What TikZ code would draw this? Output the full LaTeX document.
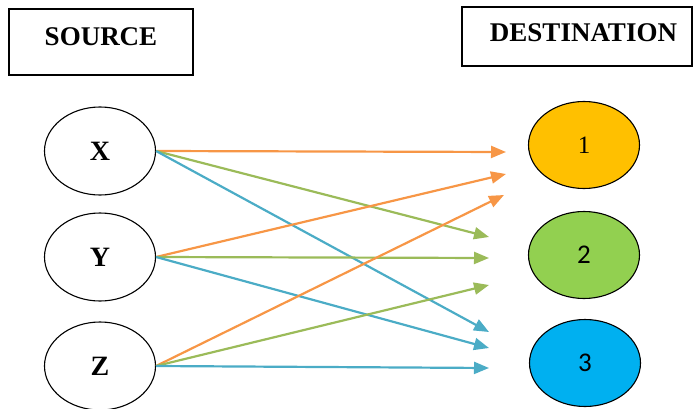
\documentclass[tikz,border=0pt]{standalone}
\usepackage{fontspec}
\setmainfont{Liberation Serif}
\newfontfamily\calib{Carlito}
\usetikzlibrary{shapes.geometric,arrows.meta}
\definecolor{arrOrange}{HTML}{F79646}
\definecolor{arrGreen}{HTML}{9BBB59}
\definecolor{arrBlue}{HTML}{4BACC6}
\definecolor{fillGold}{HTML}{FFC000}
\definecolor{fillGreen}{HTML}{92D050}
\definecolor{fillBlue}{HTML}{00B0F0}
\tikzset{
  titlebox/.style={draw, line width=1.3pt, inner sep=0pt, font=\fontsize{27}{30}\selectfont\bfseries},
  srcnode/.style={draw, ellipse, line width=1.1pt, minimum width=111pt, minimum height=88pt, inner sep=0pt, font=\fontsize{28}{30}\selectfont\bfseries},
  dstnode/.style={draw, ellipse, line width=1.1pt, minimum width=111pt, minimum height=87pt, inner sep=0pt, font=\fontsize{25}{28}\selectfont},
  conn/.style={line width=2.2pt, -{Triangle[length=15pt,width=12pt]}},
}
\begin{document}
\begin{tikzpicture}[x=1pt,y=-1pt]
\useasboundingbox (0,0) rectangle (693,409);
\node[titlebox, minimum width=184pt, minimum height=66pt, text height=18pt, text depth=11pt] (src) at (101,42) {SOURCE};
\node[titlebox, minimum width=230pt, minimum height=59pt, text height=18pt, text depth=7pt] (dst) at (577,36.5) {\hspace{13pt}DESTINATION};

\node[srcnode] (X) at (100,151) {X};
\node[srcnode] (Y) at (100,257) {Y};
\node[srcnode] (Z) at (100,366) {Z};

\node[dstnode, fill=fillGold] (D1) at (584,145) {1};
\node[dstnode, fill=fillGreen] (D2) at (584,255) {\calib\fontsize{27}{30}\selectfont 2};
\node[dstnode, fill=fillBlue] (D3) at (585,363) {\calib\fontsize{27}{30}\selectfont 3};

\coordinate (t1a) at (506,152);
\coordinate (t1b) at (506,174);
\coordinate (t1c) at (504,195);
\coordinate (t2a) at (489,237);
\coordinate (t2b) at (489,258);
\coordinate (t2c) at (489,285);
\coordinate (t3a) at (489,332);
\coordinate (t3b) at (489,348);
\coordinate (t3c) at (489,368);

\draw[conn, arrOrange] (X.east) -- (t1a);
\draw[conn, arrGreen] (X.east) -- (t2a);
\draw[conn, arrBlue] (X.east) -- (t3a);
\draw[conn, arrOrange] (Y.east) -- (t1b);
\draw[conn, arrGreen] (Y.east) -- (t2b);
\draw[conn, arrBlue] (Y.east) -- (t3b);
\draw[conn, arrOrange] (Z.east) -- (t1c);
\draw[conn, arrGreen] (Z.east) -- (t2c);
\draw[conn, arrBlue] (Z.east) -- (t3c);
\end{tikzpicture}
\end{document}
